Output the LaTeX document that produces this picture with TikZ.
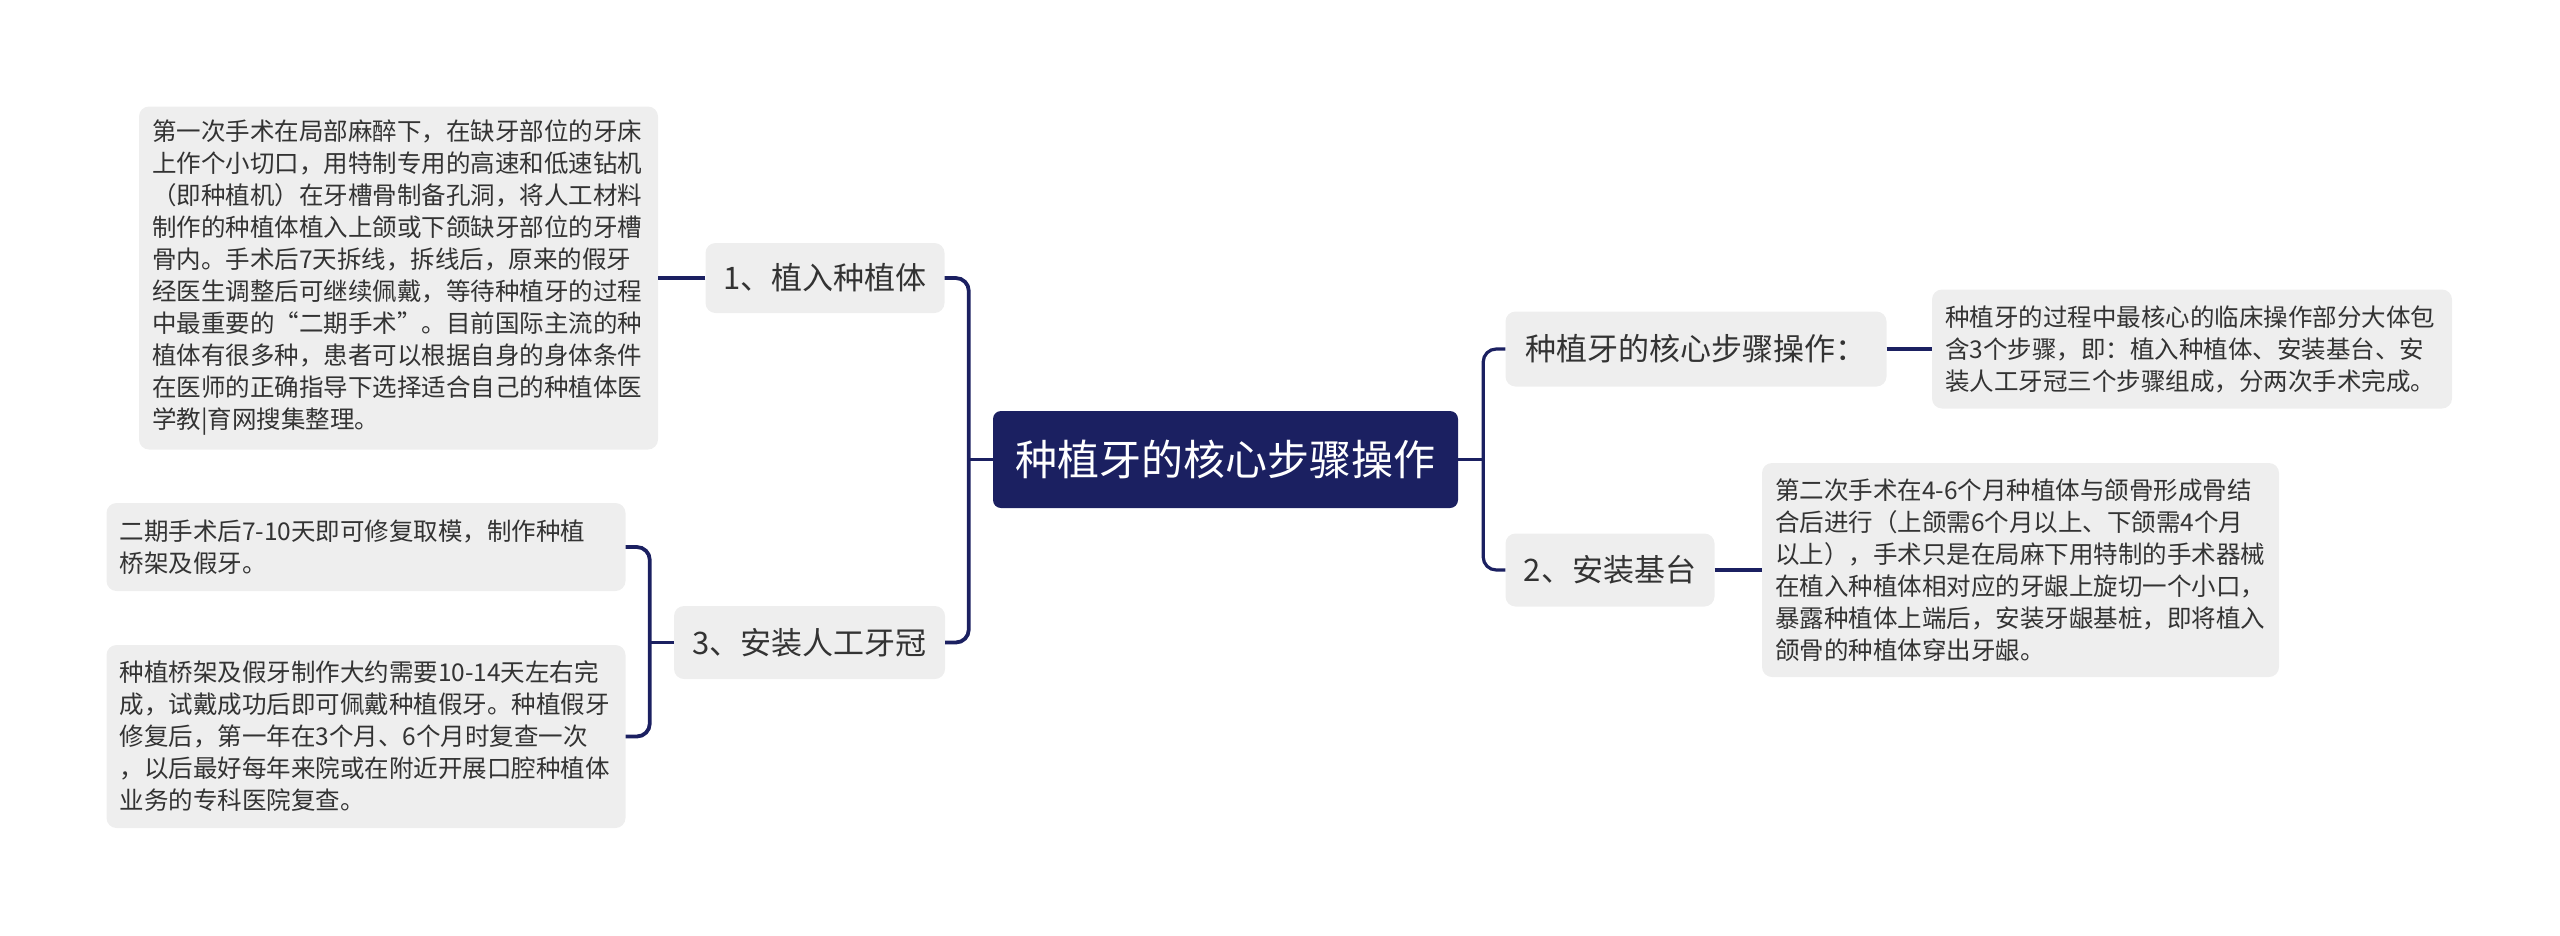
\documentclass[tikz,border=0pt]{standalone}
\usepackage{fontspec}
\setmainfont{Noto Sans CJK SC}
\usetikzlibrary{calc}
\definecolor{navy}{HTML}{1B2061}
\definecolor{boxgray}{HTML}{EEEEEE}
\definecolor{txt}{HTML}{333333}
\exhyphenpenalty=10000
\hyphenpenalty=10000
\tikzset{
  rootbox/.style={fill=navy, rounded corners=8pt, text=white, inner sep=0pt,
    font={\fontsize{42}{50}\selectfont}},
  topicbox/.style={fill=boxgray, rounded corners=10pt, text=txt, inner sep=0pt,
    font={\fontsize{31}{38}\selectfont}},
  leafbox/.style={fill=boxgray, rounded corners=10pt, text=txt, inner xsep=13pt, inner ysep=0pt,
    align=left, font={\fontsize{24.5}{32}\selectfont\exhyphenpenalty=10000 }},
  conn/.style={draw=navy, line width=3.8pt, rounded corners=13pt},
  connr/.style={draw=navy, line width=3.2pt, rounded corners=13pt}
}
\begin{document}
\begin{tikzpicture}[x=1pt,y=-1pt]
\useasboundingbox (0,0) rectangle (2560,935);
% root
\node[rootbox, minimum width=465pt, minimum height=97pt] (c) at (1225.5,459.5) {种植牙的核心步骤操作};
% left topics
\node[topicbox, minimum width=239pt, minimum height=70pt] (n1) at (825,278) {1、植入种植体};
\node[topicbox, minimum width=271pt, minimum height=73pt] (n3) at (809.5,642.5) {3、安装人工牙冠};
% right topics
\node[topicbox, minimum width=381pt, minimum height=75pt] (r1) at (1696,349) {种植牙的核心步骤操作：};
\node[topicbox, minimum width=209pt, minimum height=73pt] (r2) at (1610,570) {2、安装基台};
% leaves
\node[leafbox, text width=493pt, minimum height=343pt] (l1) at (398.5,278) {第一次手术在局部麻醉下，在缺牙部位的牙床\\上作个小切口，用特制专用的高速和低速钻机\\（即种植机）在牙槽骨制备孔洞，将人工材料\\制作的种植体植入上颌或下颌缺牙部位的牙槽\\骨内。手术后7天拆线，拆线后，原来的假牙\\经医生调整后可继续佩戴，等待种植牙的过程\\中最重要的“二期手术”。目前国际主流的种\\植体有很多种，患者可以根据自身的身体条件\\在医师的正确指导下选择适合自己的种植体医\\学教|育网搜集整理。};
\node[leafbox, text width=493pt, minimum height=88pt] (l3a) at (366,547) {二期手术后7-10天即可修复取模，制作种植\\桥架及假牙。};
\node[leafbox, text width=493pt, minimum height=183pt] (l3b) at (366,736.5) {种植桥架及假牙制作大约需要10-14天左右完\\成，试戴成功后即可佩戴种植假牙。种植假牙\\修复后，第一年在3个月、6个月时复查一次\\，以后最好每年来院或在附近开展口腔种植体\\业务的专科医院复查。};
\node[leafbox, text width=494pt, minimum height=119pt] (rl1) at (2192,349) {种植牙的过程中最核心的临床操作部分大体包\\含3个步骤，即：植入种植体、安装基台、安\\装人工牙冠三个步骤组成，分两次手术完成。};
\node[leafbox, text width=491pt, minimum height=214pt] (rl2) at (2020.5,570) {第二次手术在4-6个月种植体与颌骨形成骨结\\合后进行（上颌需6个月以上、下颌需4个月\\以上），手术只是在局麻下用特制的手术器械\\在植入种植体相对应的牙龈上旋切一个小口，\\暴露种植体上端后，安装牙龈基桩，即将植入\\颌骨的种植体穿出牙龈。};
% junctions
\coordinate (lj) at ($(c.west)+(-24,0)$);
\coordinate (rj) at ($(c.east)+(25,0)$);
\coordinate (j3) at ($(n3.west)+(-24,0)$);
% connectors
\draw[conn] (c.west) -- (lj);
\draw[conn] (n1.east) -| (lj) |- (n3.east);
\draw[connr] (c.east) -- (rj);
\draw[connr] (r1.west) -| (rj) |- (r2.west);
\draw[conn] (n1.west) -- (l1.east);
\draw[conn] (n3.west) -- (j3);
\draw[conn] (l3a.east) -| (j3) |- (l3b.east);
\draw[conn] (r1.east) -- (rl1.west);
\draw[conn] (r2.east) -- (rl2.west);
\end{tikzpicture}
\end{document}
